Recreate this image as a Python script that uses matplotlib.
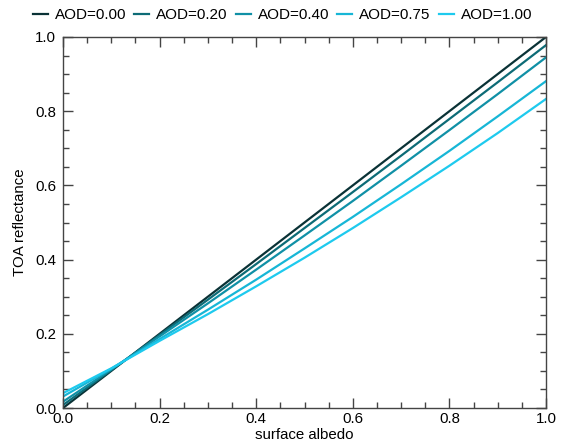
import matplotlib
matplotlib.use("Agg")
import matplotlib.pyplot as plt
from matplotlib.ticker import MultipleLocator, FormatStrFormatter

albedo = [0.0, 0.1, 0.2, 0.3, 0.4, 0.5, 0.6, 0.7, 0.8, 0.9, 1.0]
labels = ["AOD=0.00", "AOD=0.20", "AOD=0.40", "AOD=0.75", "AOD=1.00"]
toa_000 = [0.000, 0.100, 0.200, 0.300, 0.400, 0.500, 0.600, 0.700, 0.800, 0.900, 1.000]
toa_020 = [0.008, 0.102, 0.197, 0.292, 0.388, 0.485, 0.582, 0.680, 0.779, 0.878, 0.978]
toa_040 = [0.017, 0.104, 0.193, 0.282, 0.373, 0.465, 0.558, 0.653, 0.749, 0.846, 0.945]
toa_075 = [0.031, 0.106, 0.186, 0.265, 0.346, 0.430, 0.515, 0.603, 0.693, 0.786, 0.881]
toa_100 = [0.040, 0.107, 0.181, 0.253, 0.328, 0.405, 0.485, 0.568, 0.653, 0.741, 0.833]
series = [toa_000, toa_020, toa_040, toa_075, toa_100]
colors = ["#0a3236", "#0d6b76", "#1090a6", "#17b6d6", "#1ecaee"]

FS = 10.8
LFS = 11
plt.rcParams['font.family'] = ['Liberation Sans', 'DejaVu Sans']
fig = plt.figure(figsize=(5.69, 4.45), dpi=100)
ax = fig.add_axes([0.1107, 0.0831, 0.8489, 0.8338])

for y, c, lab in zip(series, colors, labels):
    ax.plot(albedo, y, color=c, lw=1.6, label=lab)

ax.set_xlim(0, 1)
ax.set_ylim(0, 1)
ax.xaxis.set_major_locator(MultipleLocator(0.2))
ax.xaxis.set_minor_locator(MultipleLocator(0.05))
ax.yaxis.set_major_locator(MultipleLocator(0.2))
ax.yaxis.set_minor_locator(MultipleLocator(0.05))
ax.xaxis.set_major_formatter(FormatStrFormatter('%.1f'))
ax.yaxis.set_major_formatter(FormatStrFormatter('%.1f'))
spc = "#444444"
for s in ax.spines.values():
    s.set_color(spc)
    s.set_linewidth(1.0)
ax.tick_params(which='both', direction='in', top=True, right=True, color=spc, labelsize=FS)
ax.tick_params(which='major', length=7, width=1.0)
ax.tick_params(which='minor', length=4, width=1.0)
ax.tick_params(axis='x', which='major', pad=3)
ax.tick_params(axis='y', which='major', pad=5)
ax.set_xlabel("surface albedo", fontsize=FS, labelpad=1)
ax.set_ylabel("TOA reflectance", fontsize=FS, labelpad=6)

fig.legend(*ax.get_legend_handles_labels(), loc='center left',
           bbox_to_anchor=(33 / 569, 1 - 15 / 445), ncol=5, frameon=False,
           fontsize=LFS, handlelength=0.98, handletextpad=0.46, columnspacing=0.52,
           borderpad=0, borderaxespad=0)

fig.savefig("out.png", dpi=100)
